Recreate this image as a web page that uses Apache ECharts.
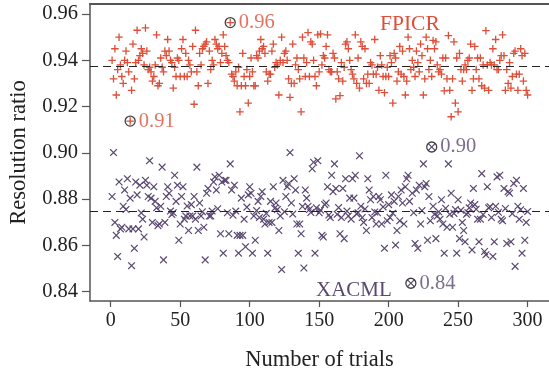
<!DOCTYPE html>
<html><head><meta charset="utf-8">
<script src="https://cdn.jsdelivr.net/npm/echarts@6/dist/echarts.min.js"></script>
<style>html,body{margin:0;padding:0;background:#fff;overflow:hidden}#c{width:549px;height:377px}</style>
</head><body><div id="c"></div>
<script>
// FPICR resolution ratio per trial (trial 1..300)
const fpicr = [
0.940,0.932,0.945,0.925,0.936,0.950,0.938,0.933,0.930,0.940,
0.944,0.939,0.935,0.9137,0.927,0.947,0.932,0.939,0.953,0.940,
0.942,0.945,0.943,0.938,0.954,0.944,0.936,0.937,0.935,0.931,
0.933,0.938,0.951,0.929,0.930,0.941,0.937,0.935,0.944,0.942,
0.949,0.944,0.940,0.939,0.928,0.937,0.933,0.941,0.940,0.933,
0.945,0.949,0.933,0.943,0.933,0.940,0.938,0.935,0.946,0.921,
0.953,0.935,0.929,0.943,0.938,0.945,0.946,0.947,0.948,0.930,
0.944,0.936,0.940,0.938,0.949,0.947,0.945,0.946,0.939,0.943,
0.951,0.946,0.942,0.940,0.939,0.9563,0.934,0.933,0.931,0.935,
0.929,0.937,0.9177,0.929,0.943,0.933,0.929,0.936,0.9215,0.933,
0.941,0.935,0.929,0.929,0.942,0.941,0.944,0.949,0.945,0.946,
0.943,0.935,0.931,0.934,0.934,0.944,0.947,0.937,0.939,0.938,
0.925,0.940,0.950,0.939,0.943,0.944,0.940,0.932,0.924,0.930,
0.947,0.930,0.938,0.941,0.936,0.932,0.9177,0.950,0.941,0.933,
0.939,0.952,0.933,0.948,0.947,0.940,0.933,0.929,0.951,0.935,
0.9514,0.938,0.942,0.941,0.946,0.951,0.936,0.935,0.935,0.943,
0.941,0.9233,0.935,0.932,0.9247,0.939,0.931,0.937,0.947,0.948,
0.945,0.940,0.936,0.934,0.932,0.951,0.930,0.941,0.928,0.948,
0.946,0.932,0.945,0.930,0.934,0.930,0.939,0.938,0.934,0.949,
0.934,0.937,0.927,0.942,0.938,0.933,0.926,0.933,0.937,0.933,
0.942,0.939,0.9215,0.943,0.941,0.931,0.935,0.946,0.934,0.944,
0.933,0.925,0.931,0.950,0.945,0.936,0.940,0.937,0.933,0.944,
0.939,0.935,0.947,0.942,0.925,0.932,0.950,0.945,0.936,0.940,
0.933,0.9486,0.945,0.948,0.938,0.935,0.936,0.934,0.941,0.9268,
0.941,0.932,0.9507,0.927,0.9156,0.932,0.948,0.9215,0.941,0.9177,
0.943,0.936,0.931,0.936,0.938,0.936,0.940,0.941,0.947,0.927,
0.932,0.946,0.936,0.941,0.932,0.941,0.929,0.938,0.928,0.9528,
0.938,0.927,0.939,0.938,0.945,0.938,0.949,0.936,0.936,0.940,
0.942,0.951,0.942,0.927,0.936,0.930,0.939,0.928,0.933,0.943,
0.944,0.934,0.927,0.934,0.945,0.942,0.931,0.943,0.927,0.925
];
// XACML resolution ratio per trial (trial 1..300)
const xacml = [
0.8811,0.9001,0.8699,0.8643,0.8552,0.8874,0.8671,0.8678,0.8769,0.8839,0.8755,
0.8888,0.8671,0.8804,0.8512,0.8671,0.8587,0.8874,0.8818,0.8671,0.8860,0.8740,
0.8713,0.8636,0.8881,0.8860,0.8811,0.8966,0.8804,0.8699,0.8853,0.8790,0.8762,
0.8685,0.8692,0.8769,0.8938,0.8537,0.8699,0.8811,0.8853,0.8825,0.8748,0.8733,
0.8741,0.8903,0.8790,0.8860,0.8622,0.8692,0.8811,0.8853,0.8713,0.8727,0.8770,
0.8664,0.8727,0.8776,0.8727,0.8811,0.8713,0.8938,0.8664,0.8783,0.8727,0.8745,
0.8678,0.8537,0.8825,0.8846,0.8727,0.8727,0.8748,0.8874,0.8896,0.8839,0.8758,
0.8903,0.8650,0.8874,0.8566,0.8881,0.8881,0.8741,0.8650,0.8952,0.8839,0.8730,
0.8860,0.8748,0.8643,0.8566,0.8643,0.8804,0.8643,0.8713,0.8594,0.8765,
0.8818,0.8853,0.8825,0.8566,0.8727,0.8622,0.8750,
0.8790,0.8720,0.8811,0.8832,0.8713,0.8692,0.8738,
0.8566,0.8699,0.8790,0.8699,0.8853,0.8760,
0.8783,0.8755,0.8664,0.8727,0.8495,0.8881,0.8745,
0.8811,0.8853,0.8867,0.9001,0.8783,0.8735,
0.8888,0.8839,0.8692,0.8566,0.8692,0.8650,0.8768,
0.8502,0.8839,0.8804,0.8769,0.8755,0.8742,
0.8931,0.8959,0.8566,0.8762,0.8966,0.8741,0.8752,
0.8643,0.8636,0.8776,0.8783,0.8853,0.8731,
0.8720,0.8903,0.8832,0.8952,0.8846,0.8734,0.8763,
0.8650,0.8720,0.8846,0.8629,0.8888,0.8748,
0.8727,0.8804,0.8713,0.8888,0.8804,0.8903,0.8736,
0.8741,0.8987,0.8769,0.8720,0.8699,0.8757,
0.8664,0.8888,0.8839,0.8797,0.8720,0.8811,0.8744,
0.8692,0.8741,0.8811,0.8797,0.8692,0.8766,
0.8587,0.8903,0.8706,0.8776,0.8720,0.8818,0.8739,
0.8790,0.8601,0.8664,0.8811,0.8706,0.8839,0.8783,0.8692,0.8853,0.8888,0.8903,0.8790,
0.8436,
0.8825,0.8741,0.8608,0.8839,0.8587,0.8860,0.8692,0.8750,0.8952,0.8853,0.8867,0.8622,0.8811,0.8706,
0.9025,
0.8769,0.8734,0.8629,0.8727,0.8745,
0.8713,0.8797,0.8692,0.8566,0.8760,
0.8678,0.8952,0.8734,0.8825,0.8678,0.8738,
0.8755,0.8566,0.8797,0.8629,0.8752,
0.8699,0.8664,0.8615,0.8734,0.8741,
0.8762,0.8783,0.8580,0.8846,0.8776,0.8756,
0.8713,0.8615,0.8713,0.8910,0.8733,
0.8573,0.8559,0.8853,0.8762,0.8767,
0.8720,0.8552,0.8615,0.8769,0.8896,0.8743,
0.8903,0.8713,0.8706,0.8846,0.8759,
0.8608,0.8832,0.8825,0.8615,0.8737,
0.8867,0.8509,0.8881,0.8769,0.8713,0.8754,
0.8566,0.8846,0.8622,0.8699,0.8746
];
const xTicks = [0, 50, 100, 150, 200, 250, 300];
const yTicks = [0.84, 0.86, 0.88, 0.90, 0.92, 0.94, 0.96];
const meanLines = [0.9376, 0.8748];
const fpicrMarked = [14, 86];     // trials circled on FPICR
const xacmlMarked = [216, 231];   // trials circled on XACML
const seriesNames = ['FPICR', 'XACML'];

const RED = '#dd4f38', PURPLE = '#5a4870';
const FONT = 'Liberation Serif';
const plusPath = 'path://M-0.7,-4L0.7,-4L0.7,-0.7L4,-0.7L4,0.7L0.7,0.7L0.7,4L-0.7,4L-0.7,0.7L-4,0.7L-4,-0.7L-0.7,-0.7Z';
const crossPath = 'path://M-0.5,-4L0.5,-4L0.5,-0.5L4,-0.5L4,0.5L0.5,0.5L0.5,4L-0.5,4L-0.5,0.5L-4,0.5L-4,-0.5L-0.5,-0.5Z';

const toXY = arr => arr.map((v, i) => [i + 1, v]);
const marks = (arr, idx, color) => idx.map(t => ({ value: [t, arr[t - 1]], label: { color } }));
const X_MIN = -14.9, X_MAX = 315.4;

const chart = echarts.init(document.getElementById('c'));
chart.setOption({
  animation: false,
  grid: { left: 89, top: 4, right: -5, bottom: 68, show: false },
  xAxis: [{
    type: 'value', min: X_MIN, max: X_MAX,
    name: 'Number of trials', nameLocation: 'middle', nameGap: 48,
    nameTextStyle: { fontFamily: FONT, fontSize: 22.5, color: '#222' },
    axisLine: { show: true, onZero: false, lineStyle: { color: '#555', width: 1.5 } },
    axisTick: { show: true, customValues: xTicks, length: 6, lineStyle: { color: '#555', width: 1.2 } },
    axisLabel: { customValues: xTicks, fontFamily: FONT, fontSize: 20, color: '#222', margin: 10 },
    splitLine: { show: false }
  }, {
    type: 'value', position: 'top', min: X_MIN, max: X_MAX,
    axisLine: { show: true, onZero: false, lineStyle: { color: '#555', width: 2 } },
    axisTick: { show: false }, axisLabel: { show: false }, splitLine: { show: false }
  }],
  yAxis: {
    type: 'value', min: 0.83592, max: 0.96434,
    name: 'Resolution ratio', nameLocation: 'middle', nameGap: 59,
    nameTextStyle: { fontFamily: FONT, fontSize: 22.5, color: '#222' },
    axisLine: { show: true, onZero: false, lineStyle: { color: '#555', width: 1.5 } },
    axisTick: { show: true, customValues: yTicks, length: 8, lineStyle: { color: '#555', width: 1.2 } },
    axisLabel: { customValues: yTicks, fontFamily: FONT, fontSize: 20.5, color: '#222', margin: 12,
      formatter: v => v.toFixed(2) },
    splitLine: { show: false }
  },
  series: [
    {
      name: seriesNames[0], type: 'scatter', data: toXY(fpicr),
      symbol: plusPath, symbolSize: 7.5,
      itemStyle: { color: RED, opacity: 1 },
      markLine: { silent: true, symbol: 'none', precision: 6, label: { show: false },
        lineStyle: { color: '#222', type: [8, 5], width: 1.2 },
        data: [{ yAxis: meanLines[0] }] }
    },
    {
      name: seriesNames[1], type: 'scatter', data: toXY(xacml),
      symbol: crossPath, symbolSize: 9.5, symbolRotate: 45,
      itemStyle: { color: PURPLE, opacity: 1 },
      markLine: { silent: true, symbol: 'none', precision: 6, label: { show: false },
        lineStyle: { color: '#222', type: [8, 5], width: 1.2 },
        data: [{ yAxis: meanLines[1] }] }
    },
    {
      name: 'marked', type: 'scatter', z: 5,
      data: marks(fpicr, fpicrMarked, RED).concat(marks(xacml, xacmlMarked, PURPLE)),
      symbol: 'circle', symbolSize: 10,
      itemStyle: { color: 'rgba(0,0,0,0)', borderColor: '#111', borderWidth: 1.3 },
      label: { show: true, position: 'right', distance: 3, fontFamily: FONT, fontSize: 20.5,
        formatter: p => p.value[1].toFixed(2) }
    }
  ],
  graphic: [
    { type: 'text', left: 380, top: 13, style: { text: seriesNames[0], fill: RED, font: '21.5px "Liberation Serif"' } },
    { type: 'text', left: 316, top: 280, style: { text: seriesNames[1], fill: PURPLE, font: '21px "Liberation Serif"' } }
  ]
});
</script>
</body></html>
